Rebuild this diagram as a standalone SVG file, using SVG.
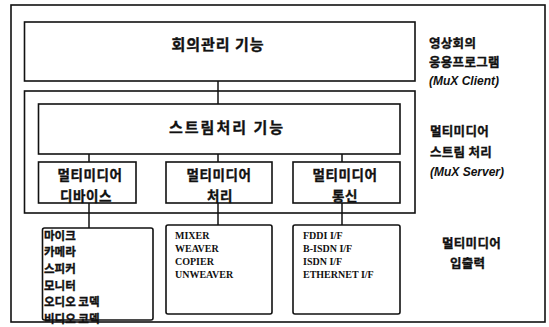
<svg xmlns="http://www.w3.org/2000/svg" width="549" height="327" viewBox="0 0 549 327">
<style>
.box{fill:#fff;stroke:#111;stroke-width:1.6}
.frame{fill:none;stroke:#111;stroke-width:1.6}
.ln{stroke:#111;stroke-width:1.5;fill:none}
.ko{font-family:"Noto Sans CJK KR","Noto Sans",sans-serif;font-weight:bold;fill:#111;stroke:#111;stroke-width:0.35}
.big{font-size:15px;letter-spacing:1px}
.mid{font-size:13.5px;letter-spacing:0.6px}
.lab{font-size:12.5px;letter-spacing:0.3px}
.sm{font-size:11.5px}
.en{font-family:"Liberation Sans",Arial,sans-serif;font-weight:bold;font-style:italic;font-size:12px;fill:#111}
.sf{font-family:"Liberation Serif","Times New Roman",serif;font-weight:bold;font-size:10px;fill:#111}
</style>
<rect x="0" y="0" width="549" height="327" fill="#fff"/>
<g id="outer-frame"><rect class="frame" x="11" y="5" width="534" height="317"/></g>
<g id="server-frame"><rect class="frame" x="24.5" y="91" width="390.5" height="122"/></g>
<g id="connectors">
<line class="ln" x1="218" y1="81" x2="218" y2="104"/>
<line class="ln" x1="89" y1="154" x2="89" y2="162"/>
<line class="ln" x1="218" y1="154" x2="218" y2="162"/>
<line class="ln" x1="342" y1="154" x2="342" y2="162"/>
<line class="ln" x1="89" y1="203" x2="89" y2="228"/>
<line class="ln" x1="218" y1="203" x2="218" y2="226"/>
<line class="ln" x1="342" y1="203" x2="342" y2="226"/>
</g>
<g id="conference-mgmt">
<rect class="box" x="24.5" y="22" width="390.5" height="59"/>
<text class="ko big" x="218" y="50" text-anchor="middle">회의관리 기능</text>
</g>
<g id="stream-processing">
<rect class="box" x="38.5" y="104" width="361.5" height="50"/>
<text class="ko big" x="227" y="133" text-anchor="middle" style="letter-spacing:2px">스트림처리 기능</text>
</g>
<g id="mm-device">
<rect class="box" x="38.5" y="162" width="97.5" height="41"/>
<text class="ko mid" x="90" y="180" text-anchor="middle">멀티미디어</text>
<text class="ko mid" x="86" y="201" text-anchor="middle">디바이스</text>
</g>
<g id="mm-processing">
<rect class="box" x="166" y="162" width="106" height="41"/>
<text class="ko mid" x="219" y="180" text-anchor="middle">멀티미디어</text>
<text class="ko mid" x="220" y="201" text-anchor="middle">처리</text>
</g>
<g id="mm-comm">
<rect class="box" x="293" y="162" width="107" height="41"/>
<text class="ko mid" x="345" y="180" text-anchor="middle">멀티미디어</text>
<text class="ko mid" x="345" y="201" text-anchor="middle">통신</text>
</g>
<g id="devices">
<rect class="box" x="42.5" y="228" width="110.5" height="92" rx="2"/>
<text class="ko sm" x="44" y="240">마이크</text>
<text class="ko sm" x="44" y="256">카메라</text>
<text class="ko sm" x="44" y="273">스피커</text>
<text class="ko sm" x="44" y="290">모니터</text>
<text class="ko sm" x="44" y="306">오디오 코덱</text>
<text class="ko sm" x="44" y="323">비디오 코덱</text>
</g>
<g id="processors">
<rect class="box" x="166" y="225" width="106" height="89" rx="2"/>
<text class="sf" x="175" y="239">MIXER</text>
<text class="sf" x="175" y="252">WEAVER</text>
<text class="sf" x="175" y="265">COPIER</text>
<text class="sf" x="175" y="278">UNWEAVER</text>
</g>
<g id="interfaces">
<rect class="box" x="293" y="225" width="107" height="89" rx="2"/>
<text class="sf" x="303" y="239">FDDI I/F</text>
<text class="sf" x="303" y="252">B-ISDN I/F</text>
<text class="sf" x="303" y="265">ISDN I/F</text>
<text class="sf" x="303" y="278">ETHERNET I/F</text>
</g>
<g id="label-client">
<text class="ko lab" x="429" y="48">영상회의</text>
<text class="ko lab" x="429" y="67">응용프로그램</text>
<text class="en" x="429" y="85">(MuX Client)</text>
</g>
<g id="label-server">
<text class="ko lab" x="430" y="136">멀티미디어</text>
<text class="ko lab" x="430" y="157">스트림 처리</text>
<text class="en" x="430" y="176">(MuX Server)</text>
</g>
<g id="label-io">
<text class="ko lab" x="442" y="248">멀티미디어</text>
<text class="ko lab" x="450" y="268">입출력</text>
</g>
</svg>
